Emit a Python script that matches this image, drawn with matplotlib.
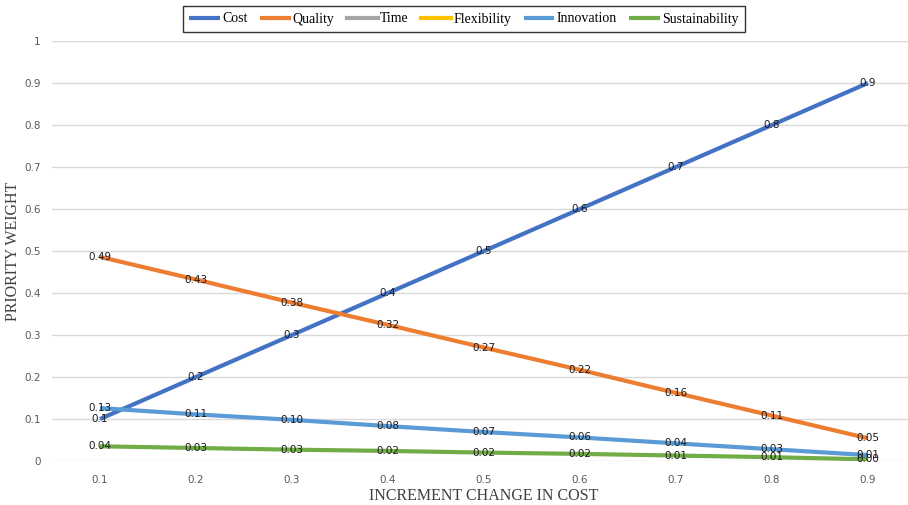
import matplotlib.pyplot as plt
import numpy as np

# data
increments = [0.1, 0.2, 0.3, 0.4, 0.5, 0.6, 0.7, 0.8, 0.9]
cost = [0.1, 0.2, 0.3, 0.4, 0.5, 0.6, 0.7, 0.8, 0.9]
quality = [0.486, 0.432, 0.377, 0.324, 0.270, 0.217, 0.162, 0.108, 0.054]
time_w = []          # in legend, no visible values
flexibility = []     # in legend, no visible values
innovation = [0.126, 0.111, 0.098, 0.083, 0.069, 0.056, 0.042, 0.028, 0.014]
sustainability = [0.035, 0.031, 0.027, 0.024, 0.020, 0.017, 0.013, 0.009, 0.004]

series = [
    ('Cost', cost, '#4472C4', '{:g}'),
    ('Quality', quality, '#ED7D31', '{:.2f}'),
    ('Time', time_w, '#A5A5A5', '{:.2f}'),
    ('Flexibility', flexibility, '#FFC000', '{:.2f}'),
    ('Innovation', innovation, '#5B9BD5', '{:.2f}'),
    ('Sustainability', sustainability, '#70AD47', '{:.2f}'),
]

W, H = 908, 505
fig = plt.figure(figsize=(W / 100, H / 100), dpi=100)
# plot area in pixels: left 52, right 916 (runs past the picture edge), top 41, bottom 461
ax = fig.add_axes([52 / W, 44 / H, 864 / W, 420 / H])

x_pos = np.arange(len(increments))
handles = []
for name, vals, color, fmt in series:
    if len(vals):
        line, = ax.plot(x_pos[:len(vals)], vals, color=color, lw=3,
                        solid_capstyle='butt', zorder=3)
    else:
        line, = ax.plot([], [], color=color, lw=3)
    handles.append(line)

# point labels on top of every line
for name, vals, color, fmt in series:
    for xi, v in zip(x_pos, vals):
        ax.text(xi, v, fmt.format(round(v, 2) if fmt != '{:g}' else v),
                ha='center', va='center', fontsize=7.5, color='#1a1a1a',
                family='DejaVu Sans', zorder=5)

ax.set_xlim(-0.5, len(increments) - 0.5)
ax.set_ylim(0, 1)
ax.set_yticks(np.arange(0, 1.01, 0.1))
ax.set_yticklabels(['0', '0.1', '0.2', '0.3', '0.4', '0.5', '0.6', '0.7',
                    '0.8', '0.9', '1'])
ax.set_xticks(x_pos)
ax.set_xticklabels(['{:g}'.format(v) for v in increments])
ax.tick_params(length=0, labelsize=7.5, labelcolor='#595959')
ax.tick_params(axis='y', pad=8)
ax.tick_params(axis='x', pad=10)
ax.grid(axis='y', color='#D9D9D9', lw=1)
ax.set_axisbelow(True)
for sp in ax.spines.values():
    sp.set_visible(False)

ax.set_ylabel('PRIORITY WEIGHT', family='Liberation Serif', fontsize=11.5,
              color='#404040')
ax.set_xlabel('INCREMENT CHANGE IN COST', family='Liberation Serif',
              fontsize=11.5, color='#404040', labelpad=2)
ax.yaxis.set_label_coords(-31 / 864, 0.5)

leg = fig.legend(handles, [s[0] for s in series], loc='center',
                 bbox_to_anchor=(464 / W, 1 - 19 / H), ncol=6,
                 prop={'family': 'Liberation Serif', 'size': 10},
                 handlelength=2.2, handletextpad=0.15, columnspacing=0.9,
                 fancybox=False, borderpad=0.5, framealpha=1)
leg.get_frame().set_edgecolor('#333333')
leg.get_frame().set_linewidth(1.0)

fig.savefig('out.png', dpi=100)
